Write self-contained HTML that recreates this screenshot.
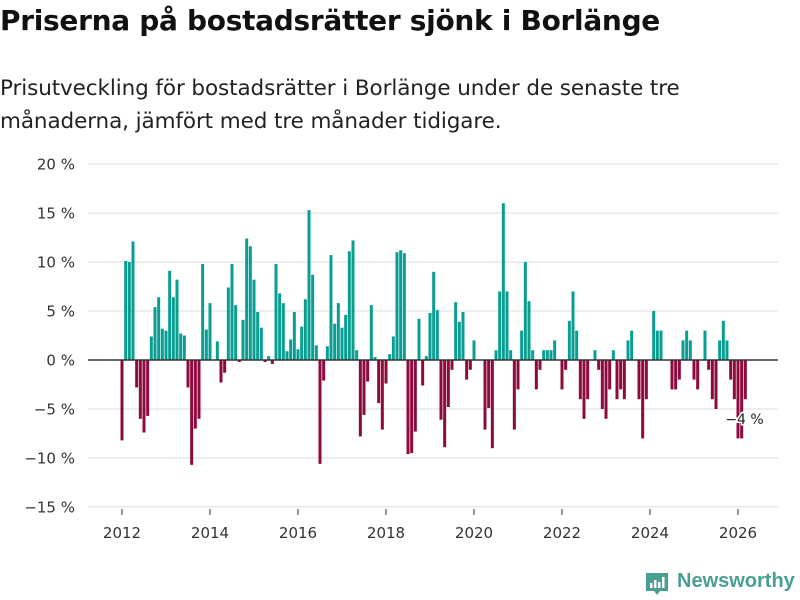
<!DOCTYPE html>
<html><head><meta charset="utf-8"><style>
body{margin:0;background:#fff;font-family:"DejaVu Sans","Liberation Sans",sans-serif;}
#wrap{position:relative;width:800px;height:600px;overflow:hidden;}
h1{position:absolute;left:0;top:4px;margin:0;font-size:28px;font-weight:bold;color:#111;letter-spacing:-0.3px;white-space:nowrap;font-family:"DejaVu Sans",sans-serif;}
p.sub{position:absolute;left:0;top:72px;margin:0;font-size:21.5px;line-height:33px;color:#222;white-space:nowrap;font-family:"DejaVu Sans",sans-serif;letter-spacing:-0.1px;}
svg{position:absolute;left:0;top:0;}
</style></head><body><div id="wrap">
<h1>Priserna på bostadsrätter sjönk i Borlänge</h1>
<p class="sub">Prisutveckling för bostadsrätter i Borlänge under de senaste tre<br>månaderna, jämfört med tre månader tidigare.</p>
<svg id="c" width="800" height="600"></svg>
</div>
<script>
const yTicks=[20,15,10,5,0,-5,-10,-15];
const yTickLabels=["20 %","15 %","10 %","5 %","0 %","−5 %","−10 %","−15 %"];
const xYears=[2012,2014,2016,2018,2020,2022,2024,2026];
const startYear=2012;
const values=[-8.2,10.1,10,12.1,-2.8,-6,-7.4,-5.7,2.4,5.4,6.4,3.2,
3,9.1,6.4,8.2,2.7,2.5,-2.8,-10.7,-7,-6,9.8,3.1,
5.8,0,1.9,-2.3,-1.3,7.4,9.8,5.6,-0.2,4.1,12.4,11.6,
8.2,4.9,3.3,-0.2,0.4,-0.4,9.8,6.8,5.8,0.9,2.1,4.9,
1.1,3.4,6.2,15.3,8.7,1.5,-10.6,-2.1,1.4,10.7,3.7,5.8,
3.3,4.6,11.1,12.2,1,-7.8,-5.6,-2.2,5.6,0.3,-4.4,-7.1,
-2.4,0.6,2.4,11,11.2,10.9,-9.6,-9.5,-7.3,4.2,-2.6,0.4,
4.8,9,5.1,-6.1,-8.9,-4.8,-1,5.9,3.9,4.9,-2,-1,
2,0,0,-7.1,-4.9,-9,1,7,16,7,1,-7.1,
-3,3,10,6,1,-3,-1,1,1,1,2,0,
-3,-1,4,7,3,-4,-6,-4,0,1,-1,-5,
-6,-3,1,-4,-3,-4,2,3,0,-4,-8,-4,
0,5,3,3,0,0,-3,-3,-2,2,3,2,
-2,-3,0,3,-1,-4,-5,2,4,2,-2,-4,
-8,-8,-4];
const NS="http://www.w3.org/2000/svg";
const svg=document.getElementById('c');
const X0=88,X1=778;
const FF='DejaVu Sans, sans-serif';
function y(v){return 360-v*9.8;}
function x(i){return 122+i*(44/12);}
function mk(t,a){const e=document.createElementNS(NS,t);for(const k in a)e.setAttribute(k,a[k]);svg.appendChild(e);return e;}
yTicks.forEach((t,k)=>{
  const g=mk('line',{x1:X0,x2:X1,y1:y(t),y2:y(t),stroke:'#dddddd','stroke-width':1});
  
  
  const l=mk('text',{x:75,y:y(t)+5.5,'text-anchor':'end','font-size':15,fill:'#333','font-family':FF});
  l.textContent=yTickLabels[k];
  
  
});
values.forEach((v,i)=>{
  if(v===0)return;
  const b=mk('rect',{x:x(i)-1.5,width:3,y:Math.min(y(v),y(0)),height:Math.abs(y(v)-y(0)),fill:v>0?'#0a9e93':'#8c0a3c'});
  
  
});
const z=mk('line',{x1:X0,x2:X1,y1:y(0),y2:y(0),stroke:'#333','stroke-width':1.5});


xYears.forEach(yr=>{
  const i=(yr-startYear)*12;
  const t=mk('line',{x1:x(i),x2:x(i),y1:509,y2:515,stroke:'#333','stroke-width':1});
  
  
  const l=mk('text',{x:x(i),y:538,'text-anchor':'middle','font-size':15,fill:'#333','font-family':FF});
  l.textContent=yr;
  
  
});
const li=values.length-1;
const ann=mk('text',{x:x(li)-20,y:y(values[li])+25,'font-size':14,fill:'#222','font-family':FF,stroke:'#fff','stroke-width':3,'paint-order':'stroke'});
ann.textContent='−4 %';


</script>
<svg style="position:absolute;left:644px;top:571px" width="26" height="26">
<path d="M2 2h22v18h-8l-3 4-3-4H2z" fill="#4a9f95"/>
<rect x="6" y="12" width="2.5" height="5" fill="#fff"/><rect x="10" y="9" width="2.5" height="8" fill="#fff"/><rect x="14" y="11" width="2.5" height="6" fill="#fff"/><rect x="18" y="6" width="2.5" height="11" fill="#fff"/>
</svg>
<div style="position:absolute;left:677px;top:570px;font-size:20px;color:#4a9f95;font-weight:bold;font-family:'Liberation Sans',sans-serif;white-space:nowrap;">Newsworthy</div>
</body></html>
